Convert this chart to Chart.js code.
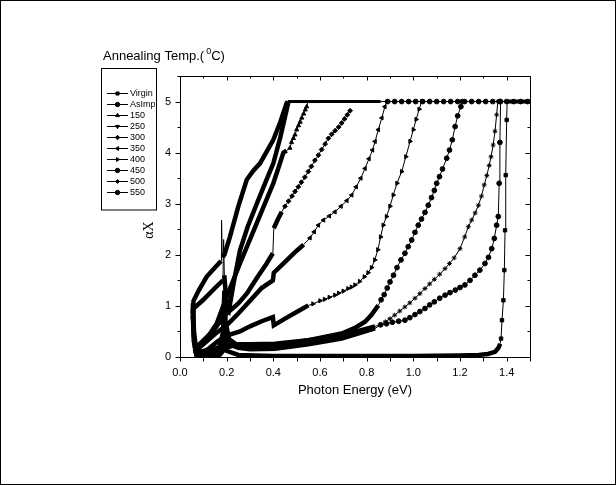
<!DOCTYPE html>
<html>
<head>
<meta charset="utf-8">
<script src="https://cdn.jsdelivr.net/npm/chart.js@4.4.1/dist/chart.umd.min.js"></script>
<style>
  html, body { margin: 0; padding: 0; background: #fff; }
  #wrap { width: 616px; height: 485px; position: relative; }
</style>
</head>
<body>
<div id="wrap"><canvas id="chart" width="616" height="485"></canvas></div>
<script>
(function () {
  'use strict';

  // ── Data: [photon energy (eV), alpha*X] ────────────────────────────────────
  var seriesNames = ['Virgin', 'AsImplanted', '150', '250', '300', '350', '400', '450', '500', '550'];

  var virgin = [[0.055,0.9],[0.06,0.3],[0.07,0.03],[0.12,0.02],[0.17,0.04],[0.185,0.12],[0.19,0.3],[0.2,0.12],
    [0.25,0.04],[0.4,0.02],[0.6,0.02],[0.8,0.02],[1.0,0.02],[1.2,0.03],[1.28,0.04],[1.32,0.06],[1.35,0.1],
    [1.365,0.18],[1.372,0.26],[1.376,0.36],[1.38,0.72],[1.386,1.11],[1.39,1.7],[1.393,2.48],[1.396,3.56],
    [1.4,4.64],[1.402,5],[1.5,5]];

  var asImpl = [[0.055,0.85],[0.058,1.1],[0.08,1.3],[0.114,1.57],[0.15,1.75],[0.176,1.88],[0.178,2.68],
    [0.181,1.95],[0.19,2.0],[0.214,2.35],[0.25,2.95],[0.286,3.47],[0.315,3.65],[0.343,3.79],[0.4,4.25],
    [0.43,4.6],[0.457,4.97],[0.462,5],[0.86,5],[0.89,5],[0.92,5],[0.95,5],[0.98,5],[1.01,5],[1.04,5],
    [1.07,5],[1.1,5],[1.13,5],[1.16,5],[1.19,5],[1.22,5],[1.25,5],[1.28,5],[1.31,5],[1.34,5],[1.37,5],
    [1.4,5],[1.43,5],[1.46,5],[1.49,5]];

  var t150 = [[0.06,0.2],[0.1,0.26],[0.157,0.65],[0.2,1.18],[0.257,1.83],[0.329,2.62],[0.4,3.4],[0.421,3.69],
    [0.443,4.0],[0.457,4.04],[0.471,4.09],[0.478,4.2],[0.486,4.28],[0.493,4.35],[0.5,4.45],[0.508,4.53],
    [0.515,4.6],[0.522,4.68],[0.53,4.76],[0.537,4.84],[0.543,4.9],[0.548,5],[0.7,5]];

  var t250 = [[0.055,0.75],[0.058,0.95],[0.1,1.12],[0.15,1.35],[0.184,1.5],[0.187,2.3],[0.19,1.6],[0.2,1.0],
    [0.21,0.92],[0.23,1.45],[0.257,2.09],[0.29,2.55],[0.329,3.0],[0.36,3.35],[0.4,3.79],[0.43,4.3],
    [0.457,4.84],[0.465,5],[0.6,5]];

  var t300 = [[0.06,0.15],[0.086,0.26],[0.14,0.5],[0.186,0.78],[0.2,0.85],[0.25,1.05],[0.286,1.24],[0.33,1.55],
    [0.37,1.82],[0.398,2.03],[0.402,2.52],[0.42,2.7],[0.436,2.84],[0.45,2.95],[0.465,3.05],[0.48,3.15],
    [0.493,3.24],[0.507,3.33],[0.52,3.42],[0.535,3.52],[0.55,3.63],[0.563,3.73],[0.578,3.85],[0.593,3.95],
    [0.607,4.06],[0.622,4.17],[0.636,4.28],[0.65,4.36],[0.665,4.43],[0.68,4.5],[0.693,4.58],[0.705,4.66],
    [0.717,4.74],[0.729,4.82]];

  var t350 = [[0.06,0.1],[0.1,0.25],[0.15,0.45],[0.2,0.62],[0.25,0.85],[0.3,1.1],[0.35,1.35],[0.398,1.5],
    [0.402,1.65],[0.436,1.8],[0.47,1.95],[0.5,2.08],[0.53,2.2],[0.557,2.33],[0.575,2.45],[0.593,2.58],
    [0.615,2.68],[0.64,2.76],[0.664,2.84],[0.69,2.95],[0.715,3.06],[0.736,3.17],[0.755,3.33],[0.775,3.5],
    [0.793,3.69],[0.81,3.88],[0.825,4.05],[0.836,4.22],[0.85,4.45],[0.865,4.68],[0.878,4.9],[0.886,5]];

  var t400 = [[0.06,0.12],[0.08,0.08],[0.12,0.15],[0.16,0.3],[0.2,0.42],[0.257,0.5],[0.3,0.6],[0.35,0.7],
    [0.398,0.78],[0.402,0.62],[0.45,0.75],[0.5,0.88],[0.55,1.01],[0.57,1.04],[0.6,1.1],[0.62,1.13],
    [0.64,1.17],[0.664,1.21],[0.68,1.25],[0.7,1.29],[0.72,1.34],[0.735,1.37],[0.75,1.41],[0.77,1.48],
    [0.79,1.57],[0.806,1.65],[0.821,1.75],[0.835,1.9],[0.848,2.1],[0.86,2.35],[0.871,2.58],[0.885,2.75],
    [0.9,2.95],[0.914,3.17],[0.93,3.4],[0.95,3.63],[0.968,3.92],[0.986,4.22],[1.0,4.45],[1.012,4.65],
    [1.025,4.85],[1.036,5]];

  var t450 = [[0.055,0.95],[0.06,0.4],[0.07,0.12],[0.12,0.1],[0.17,0.2],[0.185,0.5],[0.19,1.3],[0.195,0.7],
    [0.21,0.35],[0.25,0.22],[0.3,0.2],[0.407,0.23],[0.55,0.33],[0.693,0.46],[0.75,0.57],[0.793,0.69],
    [0.82,0.82],[0.85,1.01],[0.862,1.12],[0.875,1.22],[0.888,1.35],[0.9,1.47],[0.915,1.6],[0.93,1.75],
    [0.947,1.9],[0.964,2.03],[0.978,2.16],[0.993,2.29],[1.007,2.44],[1.021,2.58],[1.035,2.7],[1.05,2.83],
    [1.064,2.97],[1.078,3.12],[1.09,3.26],[1.1,3.4],[1.112,3.53],[1.125,3.68],[1.143,3.89],[1.155,4.05],
    [1.167,4.25],[1.179,4.51],[1.19,4.72],[1.204,4.9],[1.21,5]];

  var t500 = [[0.055,1.05],[0.06,0.5],[0.07,0.1],[0.12,0.08],[0.17,0.15],[0.185,0.4],[0.19,1.0],[0.195,0.5],
    [0.21,0.25],[0.25,0.18],[0.3,0.15],[0.407,0.16],[0.55,0.25],[0.693,0.36],[0.836,0.56],[0.86,0.63],
    [0.88,0.69],[0.9,0.75],[0.92,0.82],[0.942,0.9],[0.964,0.98],[0.985,1.06],[1.007,1.15],[1.028,1.24],
    [1.05,1.34],[1.07,1.43],[1.09,1.52],[1.113,1.62],[1.136,1.73],[1.155,1.83],[1.175,1.94],[1.2,2.12],
    [1.22,2.35],[1.236,2.55],[1.25,2.68],[1.265,2.82],[1.279,2.97],[1.292,3.15],[1.304,3.37],[1.315,3.55],
    [1.325,3.75],[1.333,3.92],[1.342,4.15],[1.35,4.42],[1.357,4.74],[1.362,5]];

  var t550 = [[0.055,0.8],[0.06,0.3],[0.07,0.06],[0.12,0.05],[0.17,0.1],[0.185,0.25],[0.19,0.7],[0.195,0.35],
    [0.21,0.2],[0.25,0.25],[0.3,0.25],[0.407,0.26],[0.55,0.33],[0.693,0.42],[0.836,0.6],[0.86,0.63],
    [0.885,0.65],[0.91,0.68],[0.937,0.7],[0.964,0.72],[0.985,0.77],[1.007,0.83],[1.028,0.89],[1.05,0.95],
    [1.07,1.02],[1.09,1.08],[1.113,1.15],[1.136,1.21],[1.157,1.26],[1.18,1.31],[1.2,1.36],[1.221,1.41],
    [1.243,1.5],[1.264,1.6],[1.285,1.7],[1.307,1.83],[1.322,1.95],[1.336,2.12],[1.347,2.32],[1.357,2.58],
    [1.364,2.75],[1.368,3.4],[1.371,4.2],[1.374,5]];

  var seriesData = [virgin, asImpl, t150, t250, t300, t350, t400, t450, t500, t550];

  // ── Styling: marker per series, and energy ranges where the original markers
  //    are packed so tightly they read as a thick band [from, to, width] ───────
  var markers = [
    { style: 'rect', rot: 0 }, { style: 'circle', rot: 0 }, { style: 'triangle', rot: 0 },
    { style: 'triangle', rot: 180 }, { style: 'rectRot', rot: 0 }, { style: 'triangle', rot: 270 },
    { style: 'triangle', rot: 90 }, { style: 'circle', rot: 0 }, { style: 'star', rot: 0 },
    { style: 'circle', rot: 0 }
  ];
  var denseBands = [
    [[0, 1.373, 4.5], [1.401, 1.6, 4]],
    [[0, 0.463, 4.5], [0.46, 0.861, 3]],
    [[0, 0.458, 4.5], [0.547, 0.71, 3]],
    [[0, 0.466, 4.5], [0.46, 0.61, 3]],
    [[0, 0.44, 4.5]],
    [[0, 0.55, 4.5]],
    [[0, 0.55, 4.5]],
    [[0, 0.85, 4.5]],
    [[0, 0.85, 4.5]],
    [[0, 0.85, 4.5]]
  ];

  function bandWidth(bands, x0, x1) {
    for (var i = 0; i < bands.length; i++) {
      if (x0 >= bands[i][0] && x1 <= bands[i][1]) return bands[i][2];
    }
    return 0;
  }

  var datasets = seriesData.map(function (rows, i) {
    var bands = denseBands[i];
    return {
      label: seriesNames[i],
      data: rows.map(function (r) { return { x: r[0], y: r[1] }; }),
      borderColor: '#000',
      backgroundColor: '#000',
      borderWidth: 1,
      tension: 0,
      pointStyle: markers[i].style,
      pointRotation: markers[i].rot,
      pointBorderWidth: 1,
      pointRadius: function (ctx) {
        var x = ctx.raw.x;
        return bandWidth(bands, x, x) ? 0 : 2.4;
      },
      segment: {
        borderWidth: function (ctx) {
          var a = ctx.p0.parsed, b = ctx.p1.parsed;
          if (Math.abs(b.x - a.x) < 0.0045 && Math.abs(b.y - a.y) > 0.3) return 1;
          return bandWidth(bands, a.x, b.x) || 1;
        }
      }
    };
  });

  // ── Frame, inward/outward ticks, y label, legend box and legend title ──────
  var decor = {
    id: 'decor',
    afterDraw: function (chart) {
      var ctx = chart.ctx, a = chart.chartArea;
      var xs = chart.scales.x, ys = chart.scales.y;
      var L = Math.round(a.left) + 0.5, R = Math.round(a.right) + 0.5;
      var T = Math.round(a.top) + 0.5, B = Math.round(a.bottom) + 0.5;
      var i, p, len;

      ctx.save();
      ctx.strokeStyle = '#000';
      ctx.lineWidth = 1;
      ctx.strokeRect(0.5, 0.5, 615, 484);
      ctx.strokeRect(L, T, R - L, B - T);

      ctx.beginPath();
      for (i = 0; i <= 15; i++) {
        p = Math.round(xs.getPixelForValue(i / 10)) + 0.5;
        len = i % 2 ? 3 : 5;
        ctx.moveTo(p, B); ctx.lineTo(p, B + 4);
        ctx.moveTo(p, T); ctx.lineTo(p, T + len - 1);
      }
      for (i = 0; i <= 11; i++) {
        p = Math.round(ys.getPixelForValue(i / 2)) + 0.5;
        len = i % 2 ? 3 : 5;
        ctx.moveTo(L, p); ctx.lineTo(L - len, p);
        ctx.moveTo(R, p); ctx.lineTo(R - len, p);
      }
      ctx.stroke();

      ctx.fillStyle = '#000';

      // y axis label
      ctx.save();
      ctx.translate(149, 230);
      ctx.rotate(-Math.PI / 2);
      ctx.font = '14px "Liberation Serif", "Times New Roman", serif';
      ctx.textAlign = 'center';
      ctx.textBaseline = 'middle';
      ctx.fillText('αX', 0, 0);
      ctx.restore();

      // legend title
      ctx.textBaseline = 'alphabetic';
      ctx.font = '13px "Liberation Sans", Arial, sans-serif';
      var tx = 103, ty = 60;
      ctx.fillText('Annealing Temp.(', tx, ty);
      tx += ctx.measureText('Annealing Temp.(').width + 2;
      ctx.font = '9px "Liberation Sans", Arial, sans-serif';
      ctx.fillText('0', tx, ty - 6);
      tx += ctx.measureText('0').width;
      ctx.font = '13px "Liberation Sans", Arial, sans-serif';
      ctx.fillText('C)', tx, ty);

      // legend box
      var bx = 101.5, by = 68.5, bw = 55, bh = 141.5;
      ctx.strokeRect(bx, by, bw, bh);
      ctx.save();
      ctx.beginPath();
      ctx.rect(bx, by, bw, bh);
      ctx.clip();
      ctx.font = '9px "Liberation Sans", Arial, sans-serif';
      ctx.textBaseline = 'middle';
      for (i = 0; i < seriesNames.length; i++) {
        var y = Math.round(92.7 + i * 11) + 0.5;
        ctx.beginPath();
        ctx.moveTo(107, y); ctx.lineTo(128, y);
        ctx.stroke();
        Chart.helpers.drawPoint(ctx, {
          pointStyle: markers[i].style, rotation: markers[i].rot, radius: 2.2, borderWidth: 1
        }, 117.5, y);
        ctx.fillText(seriesNames[i], 130, y);
      }
      ctx.restore();
      ctx.restore();
    }
  };

  new Chart(document.getElementById('chart'), {
    type: 'line',
    data: { datasets: datasets },
    plugins: [decor],
    options: {
      responsive: false,
      animation: false,
      events: [],
      layout: { padding: { left: 140, right: 86, top: 76, bottom: 87 } },
      plugins: { legend: { display: false }, tooltip: { enabled: false } },
      scales: {
        x: {
          type: 'linear',
          min: 0,
          max: 1.5,
          afterFit: function (s) { s.height = 41; },
          border: { display: false },
          grid: { drawOnChartArea: false, drawTicks: true, tickLength: 4, tickColor: 'rgba(0,0,0,0)' },
          ticks: {
            stepSize: 0.1,
            autoSkip: false,
            maxRotation: 0,
            padding: 5,
            color: '#000',
            font: { family: '"Liberation Sans", Arial, sans-serif', size: 11 },
            callback: function (v) {
              return Math.round(v * 10) % 2 === 0 ? v.toFixed(1) : '';
            }
          },
          title: {
            display: true,
            text: 'Photon Energy (eV)',
            color: '#000',
            padding: { top: 0, bottom: 0 },
            font: { family: '"Liberation Sans", Arial, sans-serif', size: 13 }
          }
        },
        y: {
          type: 'linear',
          min: 0,
          max: 5.5,
          afterFit: function (s) { s.width = 40; },
          border: { display: false },
          grid: { drawOnChartArea: false, drawTicks: true, tickLength: 5, tickColor: 'rgba(0,0,0,0)' },
          ticks: {
            stepSize: 0.5,
            autoSkip: false,
            padding: 4,
            color: '#000',
            font: { family: '"Liberation Sans", Arial, sans-serif', size: 11 },
            callback: function (v) {
              return Math.abs(v - Math.round(v)) < 1e-6 ? String(Math.round(v)) : '';
            }
          }
        }
      }
    }
  });
}());
</script>
</body>
</html>
